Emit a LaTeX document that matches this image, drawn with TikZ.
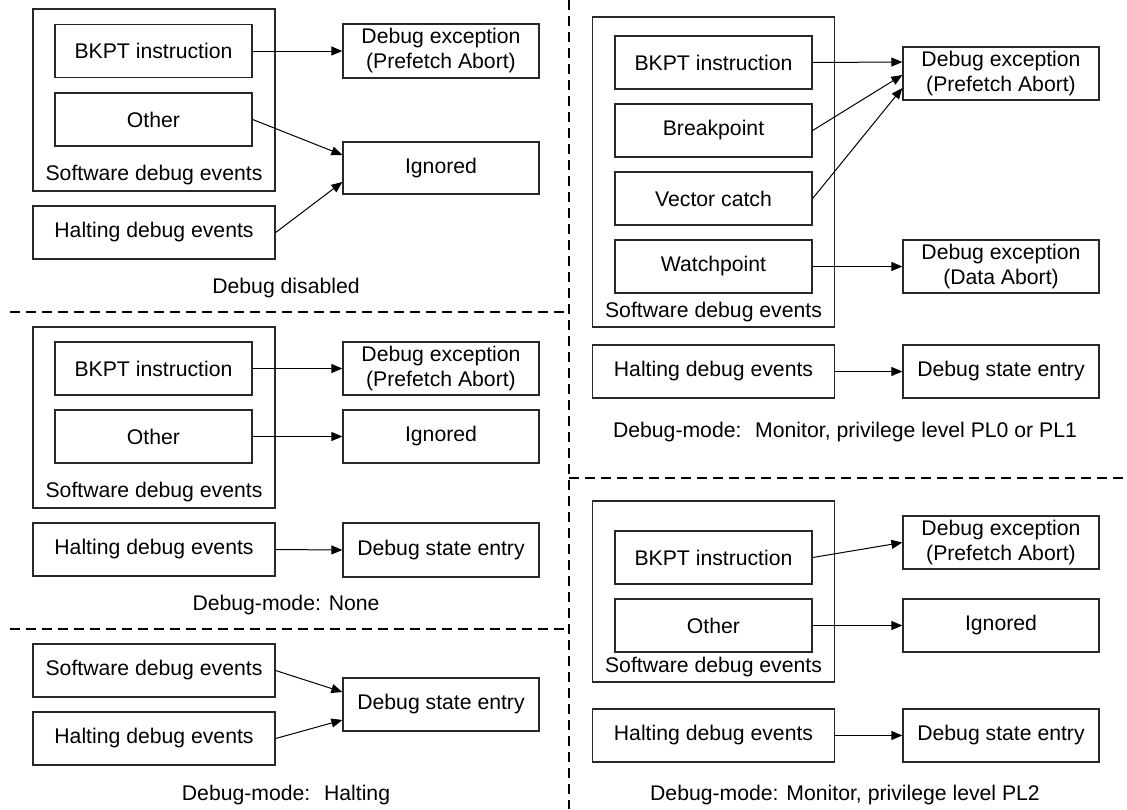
\documentclass[tikz,border=0pt]{standalone}
\usepackage{fontspec}
\setmainfont{Liberation Sans}
\usetikzlibrary{arrows.meta,calc}
\definecolor{edgegray}{RGB}{40,40,40}
\tikzset{
  evbox/.style={draw=edgegray, line width=1.3pt, minimum width=197pt,
                minimum height=53pt, inner sep=0pt, align=center},
  widebox/.style={evbox, minimum width=242pt},
  outbox/.style={evbox, minimum width=196pt},
  groupbox/.style={draw=edgegray, line width=1.3pt, minimum width=242pt,
                   inner sep=0pt},
  lab/.style={inner sep=0pt},
  flow/.style={-{Triangle[length=11pt,width=9pt]}, line width=1pt},
  divider/.style={black, line width=2.6pt, dash pattern=on 10pt off 6pt},
}

\begin{document}
\begin{tikzpicture}[x=1pt,y=-1pt,
    every node/.style={font=\fontsize{21.2}{25}\selectfont}]
  \path[use as bounding box] (0,0) rectangle (1127,809);

  % Dividers.
  \draw[divider] (569,0) -- (569,809);
  \draw[divider] (10,312) -- (569,312);
  \draw[divider] (10,629) -- (569,629);
  \draw[divider] (569,478) -- (1127,478);

  % Debug disabled.
  \node[groupbox, minimum height=182pt] (Asw) at (154,100) {};
  \node[evbox] (Abkpt) at (153.5,51) {BKPT instruction};
  \node[evbox] (Aother) at (153.5,119.5) {Other};
  \node[lab] (Aswlab) at (154,175) {Software debug events};
  \node[widebox] (Ahalt) at (154,232.5) {Halting debug events};
  \node[outbox, minimum height=54pt] (Aexc) at (441,51)
    {Debug exception\\(Prefetch Abort)};
  \node[outbox, minimum height=52pt] (Aign) at (441,168) {Ignored};
  \draw[flow] (Abkpt.east) -- (Aexc.west);
  \draw[flow] (Aother.east) -- ($(Aign.west)+(0,-13)$);
  \draw[flow] (Ahalt.east) -- ($(Aign.west)+(0,14)$);
  \node[lab] (Acap) at (286,288) {Debug disabled};

  % Debug-mode: None.
  \node[groupbox, minimum height=181pt] (Bsw) at (154,417.5) {};
  \node[evbox] (Bbkpt) at (153.5,368.5) {BKPT instruction};
  \node[evbox] (Bother) at (153.5,436.5) {Other};
  \node[lab] (Bswlab) at (154,492) {Software debug events};
  \node[widebox] (Bhalt) at (154,549.5) {Halting debug events};
  \node[outbox] (Bexc) at (441,368.5) {Debug exception\\(Prefetch Abort)};
  \node[outbox] (Bign) at (441,436.5) {Ignored};
  \node[outbox, minimum height=54pt] (Bdse) at (441,550) {Debug state entry};
  \draw[flow] (Bbkpt.east) -- (Bexc.west);
  \draw[flow] (Bother.east) -- (Bign.west);
  \draw[flow] (Bhalt.east) -- (Bdse.west);
  \node[lab] (Bcap) at (286,605) {Debug-mode: None};

  % Debug-mode: Halting.
  \node[widebox] (Csw) at (154,670.5) {Software debug events};
  \node[widebox] (Chalt) at (154,738.5) {Halting debug events};
  \node[outbox] (Cdse) at (441,704.5) {Debug state entry};
  \draw[flow] (Csw.east) -- ($(Cdse.west)+(0,-12.5)$);
  \draw[flow] (Chalt.east) -- ($(Cdse.west)+(0,15.5)$);
  \node[lab] (Ccap) at (286,795) {Debug-mode:~ Halting};

  % Debug-mode: Monitor, PL0 or PL1.
  \node[groupbox, minimum height=310pt] (Dsw) at (713.5,172) {};
  \node[evbox] (Dbkpt) at (713.5,62.5) {BKPT instruction};
  \node[evbox] (Dbrk) at (713.5,130.5) {Breakpoint};
  \node[evbox] (Dvec) at (713.5,198.5) {Vector catch};
  \node[evbox] (Dwatch) at (713.5,266.5) {Watchpoint};
  \node[lab] (Dswlab) at (713.5,312) {Software debug events};
  \node[widebox] (Dhalt) at (713.5,371.5) {Halting debug events};
  \node[outbox] (Dpexc) at (1001,73.5) {Debug exception\\(Prefetch Abort)};
  \node[outbox] (Ddexc) at (1001,266.5) {Debug exception\\(Data Abort)};
  \node[outbox] (Ddse) at (1001,371.5) {Debug state entry};
  \draw[flow] (Dbkpt.east) -- ($(Dpexc.west)+(0,-11.5)$);
  \draw[flow] (Dbrk.east) -- ($(Dpexc.west)+(0,1.5)$);
  \draw[flow] (Dvec.east) -- ($(Dpexc.west)+(0,14.5)$);
  \draw[flow] (Dwatch.east) -- (Ddexc.west);
  \draw[flow] (Dhalt.east) -- (Ddse.west);
  \node[lab] (Dcap) at (845,432)
    {Debug-mode:~ Monitor, privilege level PL0 or PL1};

  % Debug-mode: Monitor, PL2.
  \node[groupbox, minimum height=181pt] (Esw) at (713.5,591.5) {};
  \node[evbox] (Ebkpt) at (713.5,557.5) {BKPT instruction};
  \node[evbox] (Eother) at (713.5,625.5) {Other};
  \node[lab] (Eswlab) at (713.5,667) {Software debug events};
  \node[widebox] (Ehalt) at (713.5,735.5) {Halting debug events};
  \node[outbox] (Eexc) at (1001,542.5) {Debug exception\\(Prefetch Abort)};
  \node[outbox] (Eign) at (1001,625.5) {Ignored};
  \node[outbox] (Edse) at (1001,735.5) {Debug state entry};
  \draw[flow] (Ebkpt.east) -- (Eexc.west);
  \draw[flow] (Eother.east) -- (Eign.west);
  \draw[flow] (Ehalt.east) -- (Edse.west);
  \node[lab] (Ecap) at (845,795)
    {Debug-mode: Monitor, privilege level PL2};
\end{tikzpicture}
\end{document}
